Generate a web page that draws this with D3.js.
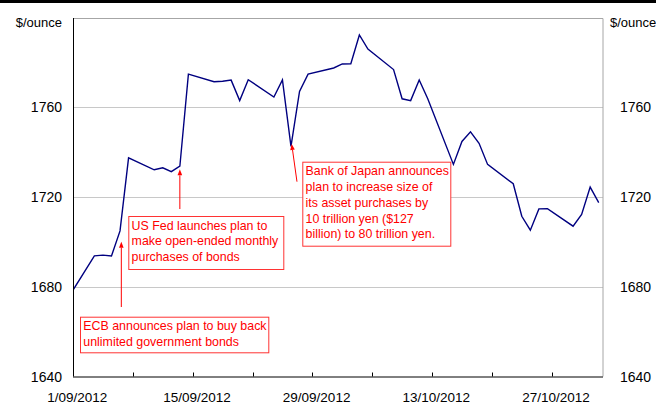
<html>

<head>
    <style>
        body {
            margin: 0;
            background: #fff;
        }

        text {
            font-family: Arial, "Liberation Sans", Helvetica, sans-serif;
        }
    </style>
</head>

<body>
    <svg id="chart"></svg>
</body>
<script src="https://cdn.jsdelivr.net/npm/d3@7"></script>
<script>
    // Gold price, $/ounce (daily)
    let dates = ["2012-08-31", "2012-09-03", "2012-09-04", "2012-09-05", "2012-09-06", "2012-09-07",
        "2012-09-10", "2012-09-11", "2012-09-12", "2012-09-13", "2012-09-14",
        "2012-09-17", "2012-09-18", "2012-09-19", "2012-09-20", "2012-09-21",
        "2012-09-24", "2012-09-25", "2012-09-26", "2012-09-27", "2012-09-28",
        "2012-10-01", "2012-10-02", "2012-10-03", "2012-10-04", "2012-10-05",
        "2012-10-08", "2012-10-09", "2012-10-10", "2012-10-11", "2012-10-12",
        "2012-10-15", "2012-10-16", "2012-10-17", "2012-10-18", "2012-10-19",
        "2012-10-22", "2012-10-23", "2012-10-24", "2012-10-25", "2012-10-26",
        "2012-10-29", "2012-10-30", "2012-10-31", "2012-11-01"]
    let prices = [1675.4, 1693.7, 1694.0, 1693.6, 1704.8, 1737.3,
        1732.0, 1732.9, 1731.2, 1733.6, 1774.6,
        1771.2, 1771.4, 1771.9, 1762.8, 1772.1,
        1764.4, 1772.0, 1742.4, 1766.9, 1774.6,
        1777.3, 1779.1, 1779.2, 1792.0, 1785.7,
        1776.6, 1763.6, 1762.8, 1772.0, 1763.6,
        1734.4, 1744.6, 1748.9, 1743.8, 1734.4,
        1725.8, 1711.3, 1705.1, 1714.6, 1714.7,
        1706.9, 1712.1, 1724.3, 1717.4]

    let yTicks = [1640, 1680, 1720, 1760]
    let tickDates = ["2012-09-01", "2012-09-08", "2012-09-15", "2012-09-22", "2012-09-29",
        "2012-10-06", "2012-10-13", "2012-10-20", "2012-10-27"]
    let labelDates = ["2012-09-01", "2012-09-15", "2012-09-29", "2012-10-13", "2012-10-27"]
    let labelTexts = ["1/09/2012", "15/09/2012", "29/09/2012", "13/10/2012", "27/10/2012"]

    // event annotations: arrow tip at (date, tip value), tail pixel y, box [x, y, w, h]
    let notes = [
        { date: "2012-09-06", tip: 1700, tipDx: 1.3, tailDx: 1.3, tail: 307, box: [80, 316.7, 188.3, 35.6],
          lines: ["ECB announces plan to buy back", "unlimited government bonds"] },
        { date: "2012-09-13", tip: 1732.2, tipDx: 0, tailDx: 0, tail: 209, box: [128.3, 216, 155, 53],
          lines: ["US Fed launches plan to", "make open-ended monthly", "purchases of bonds"] },
        { date: "2012-09-26", tip: 1743.5, tipDx: 0.7, tailDx: 6, tail: 181.7, box: [302.3, 161.7, 148, 84],
          lines: ["Bank of Japan announces", "plan to increase size of", "its asset purchases by",
              "10 trillion yen ($127", "billion) to 80 trillion yen."] }
    ]

    //Setup
    let width = 656,
        height = 403,
        margin = { top: 17, right: 53, bottom: 26.5, left: 73 }

    let parse = d3.utcParse("%Y-%m-%d")
    let noon = d => d3.utcHour.offset(parse(d), 12)

    let x = d3.scaleUtc()
        .domain([parse("2012-09-01"), parse("2012-11-02")])
        .range([margin.left, width - margin.right])

    let y = d3.scaleLinear()
        .domain([1640, 1800])
        .range([height - margin.bottom, margin.top])

    let svg = d3.select("#chart")
        .attr("width", width)
        .attr("height", height)

    svg.append("rect").attr("x", 0).attr("y", 0).attr("width", width).attr("height", 3).attr("fill", "#000")

    svg.append("clipPath").attr("id", "plot")
        .append("rect")
        .attr("x", x.range()[0]).attr("y", y.range()[1])
        .attr("width", x.range()[1] - x.range()[0])
        .attr("height", y.range()[0] - y.range()[1])

    // gridlines
    svg.append("g").selectAll("line")
        .data(yTicks.slice(1))
        .enter().append("line")
        .attr("x1", x.range()[0]).attr("x2", x.range()[1])
        .attr("y1", d => Math.round(y(d)) + 0.5).attr("y2", d => Math.round(y(d)) + 0.5)
        .attr("stroke", "#c8c8c8")

    // frame (top and right in grey)
    svg.append("path")
        .attr("d", `M${x.range()[0]},${y.range()[1] + 1.5}H${x.range()[1]}V${y.range()[0]}`)
        .attr("fill", "none")
        .attr("stroke", "#a6a6a6")

    // y labels both sides
    let yl = svg.append("g").attr("font-size", 14).attr("fill", "#000")
    yl.selectAll("text.l").data(yTicks).enter().append("text")
        .attr("x", margin.left - 11).attr("y", d => y(d)).attr("dy", "0.36em")
        .attr("text-anchor", "end").text(d => d)
    yl.selectAll("text.r").data(yTicks).enter().append("text")
        .attr("x", width - margin.right + 17).attr("y", d => y(d)).attr("dy", "0.36em")
        .text(d => d)

    svg.append("text").attr("x", margin.left - 11).attr("y", 22).attr("dy", "0.36em")
        .attr("text-anchor", "end").attr("font-size", 13).text("$/ounce")
    svg.append("text").attr("x", width - margin.right + 7).attr("y", 22).attr("dy", "0.36em")
        .attr("font-size", 13).text("$/ounce")

    // line
    let line = d3.line()
        .x((d, i) => x(noon(dates[i])))
        .y(d => y(d))

    svg.append("path")
        .datum(prices)
        .attr("clip-path", "url(#plot)")
        .attr("d", line)
        .attr("fill", "none")
        .attr("stroke", "#000080")
        .attr("stroke-width", 1.4)

    // axes
    svg.append("line")
        .attr("x1", x.range()[0] + 0.5).attr("x2", x.range()[0] + 0.5)
        .attr("y1", y.range()[1] + 1).attr("y2", y.range()[0])
        .attr("stroke", "#000")
    svg.append("line")
        .attr("x1", x.range()[0]).attr("x2", x.range()[1])
        .attr("y1", y.range()[0] + 0.5).attr("y2", y.range()[0] + 0.5)
        .attr("stroke", "#000")

    svg.append("g").selectAll("line")
        .data(tickDates.slice(1))
        .enter().append("line")
        .attr("x1", d => Math.round(x(parse(d))) + 0.5).attr("x2", d => Math.round(x(parse(d))) + 0.5)
        .attr("y1", y.range()[0]).attr("y2", y.range()[0] - 4)
        .attr("stroke", "#000")

    svg.append("g").attr("font-size", 13.5).selectAll("text")
        .data(labelDates)
        .enter().append("text")
        .attr("x", d => x(noon(d)))
        .attr("y", 401.5)
        .attr("text-anchor", "middle")
        .text((d, i) => labelTexts[i])

    // annotations
    let ann = svg.append("g")
    notes.forEach(n => {
        let tipX = x(noon(n.date)) + n.tipDx
        let tailX = x(noon(n.date)) + n.tailDx
        let tipY = y(n.tip)
        let ang = Math.atan2(tipY - n.tail, tipX - tailX)
        let len = 6, half = 2.3
        let bx = tipX - len * Math.cos(ang), by = tipY - len * Math.sin(ang)
        ann.append("line")
            .attr("x1", tailX).attr("y1", n.tail)
            .attr("x2", bx).attr("y2", by)
            .attr("stroke", "#f00").attr("stroke-width", 1)
        ann.append("path")
            .attr("d", `M${tipX},${tipY}L${bx + half * Math.sin(ang)},${by - half * Math.cos(ang)}L${bx - half * Math.sin(ang)},${by + half * Math.cos(ang)}Z`)
            .attr("fill", "#f00")

        let [bx0, by0, bw, bh] = n.box
        ann.append("rect")
            .attr("x", bx0 + 0.5).attr("y", by0 + 0.5)
            .attr("width", bw).attr("height", bh)
            .attr("fill", "#fff").attr("stroke", "#f33")
        ann.append("g").attr("font-size", 12.4).attr("fill", "#f00")
            .selectAll("text").data(n.lines).enter().append("text")
            .attr("x", bx0 + 3.3)
            .attr("y", (d, i) => by0 + 9.3 + i * 15.7)
            .attr("dy", "0.36em")
            .text(d => d)
    })
</script>

</html>
